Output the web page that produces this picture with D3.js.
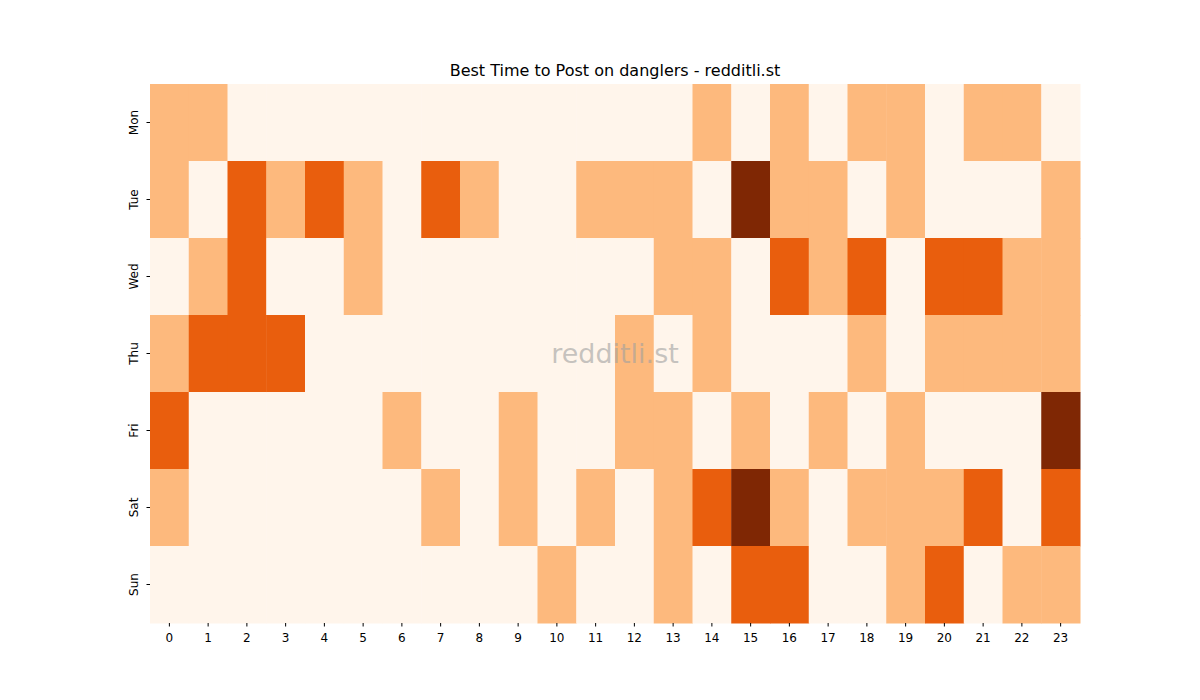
<!DOCTYPE html>
<html><head><meta charset="utf-8">
<script src="https://cdn.jsdelivr.net/npm/d3@7"></script>
<style>body{margin:0;background:#fff}text{font-family:"DejaVu Sans",sans-serif}</style>
</head><body><svg id="c" width="1200" height="700"></svg>
<script>
const days = ["Mon","Tue","Wed","Thu","Fri","Sat","Sun"];
const hours = d3.range(24);
const levels = [
[1,1,0,0,0,0,0,0,0,0,0,0,0,0,1,0,1,0,1,1,0,1,1,0],
[1,0,2,1,2,1,0,2,1,0,0,1,1,1,0,3,1,1,0,1,0,0,0,1],
[0,1,2,0,0,1,0,0,0,0,0,0,0,1,1,0,2,1,2,0,2,2,1,1],
[1,2,2,2,0,0,0,0,0,0,0,0,1,0,1,0,0,0,1,0,1,1,1,1],
[2,0,0,0,0,0,1,0,0,1,0,0,1,1,0,1,0,1,0,1,0,0,0,3],
[1,0,0,0,0,0,0,1,0,1,0,1,0,1,2,3,1,0,1,1,1,2,0,2],
[0,0,0,0,0,0,0,0,0,0,1,0,0,1,0,2,2,0,0,1,2,0,1,1]
];
const palette = ["#fff5eb","#fdb97d","#e95e0d","#7f2704"];
const svg = d3.select("#c");
const x = d3.scaleBand().domain(hours).range([150,1080]);
const y = d3.scaleBand().domain(days).range([84,623]);
const color = d3.scaleOrdinal().domain([0,1,2,3]).range(palette);
levels.forEach((row,i)=>{
  svg.selectAll(null).data(row).enter().append("rect")
    .attr("x",(d,j)=>x(j)).attr("y",y(days[i]))
    .attr("width",x.bandwidth()+0.5).attr("height",y.bandwidth()+0.5)
    .attr("fill",d=>color(d));
});
const xa = svg.append("g").attr("transform","translate(0,623)").call(d3.axisBottom(x).tickSizeOuter(0).tickSize(3.5));
xa.select(".domain").remove();
xa.selectAll("text").attr("font-size",12).attr("font-family","DejaVu Sans").attr("dy","1em");
const ya = svg.append("g").attr("transform","translate(150,0)").call(d3.axisLeft(y).tickSizeOuter(0).tickSize(3.5));
ya.select(".domain").remove();
ya.selectAll("text").attr("font-size",12).attr("font-family","DejaVu Sans")
  .attr("text-anchor","middle").attr("x",0).attr("dy",0)
  .attr("transform","translate(-12,0) rotate(-90)").attr("dominant-baseline","auto");
svg.append("text").attr("x",615).attr("y",76).attr("text-anchor","middle").attr("font-size",16).text("Best Time to Post on danglers - redditli.st");
svg.append("text").attr("x",615).attr("y",363).attr("text-anchor","middle").attr("font-size",27).attr("fill","#a0a0a0").attr("fill-opacity",0.6).text("redditli.st");
</script></body></html>
